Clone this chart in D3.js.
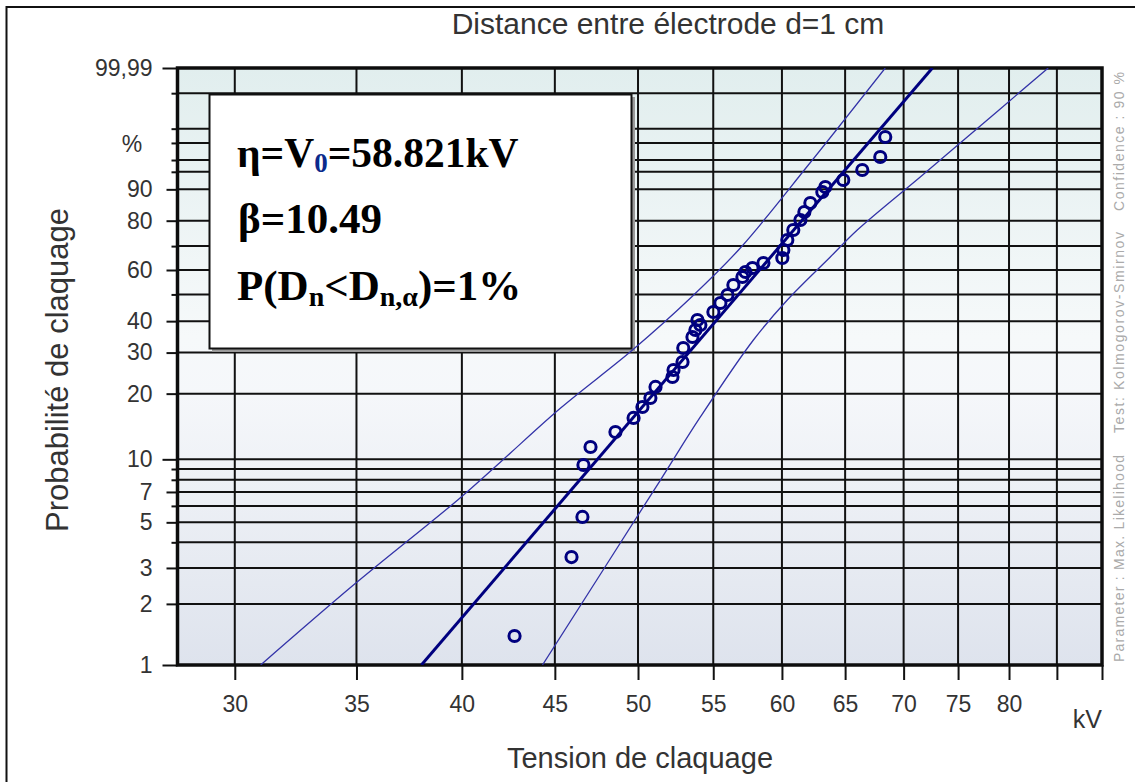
<!DOCTYPE html>
<html>
<head>
<meta charset="utf-8">
<script src="https://cdn.jsdelivr.net/npm/d3@7"></script>
<style>
  html, body { margin: 0; padding: 0; background: #ffffff; }
  svg { display: block; }
</style>
</head>
<body>
<svg id="chart" width="1135" height="782"></svg>
<script>
// ---------- data ----------
const voltage = [42.76, 45.96, 46.60, 46.66, 47.08, 48.59, 49.72, 50.28, 50.79, 51.12,
                 52.23, 52.30, 52.90, 52.95, 53.57, 53.77, 54.11, 53.91, 55.01, 55.50,
                 56.00, 56.42, 57.07, 57.29, 57.80, 58.61, 60.03, 60.11, 60.41, 60.87,
                 61.42, 61.73, 62.20, 63.15, 63.39, 64.85, 66.43, 67.96, 68.39];
const probability = [1.39, 3.39, 5.31, 9.40, 11.42, 13.41, 15.55, 17.43, 19.13, 21.40,
                     23.65, 25.35, 27.41, 31.33, 34.70, 36.98, 38.66, 40.40, 43.29, 46.66,
                     49.78, 53.79, 57.09, 59.17, 60.84, 62.94, 65.04, 68.39, 72.50, 76.48,
                     80.26, 83.10, 86.05, 89.29, 90.61, 92.29, 94.34, 96.43, 98.48];

// fitted Weibull line (end points) and 90 % confidence bounds
const fitLine = [[38.0, 1], [72.6, 99.99]];
const upperBound = [[31.00, 1], [34.88, 2.48], [39.79, 6.41], [42.01, 9.72], [45.33, 17.25],
                    [49.65, 30.74], [53.51, 48.99], [56.92, 69.22], [62.04, 95.22], [68.39, 99.99]];
const lowerBound = [[44.30, 1], [51.44, 7.98], [54.11, 15.71], [57.87, 33.76], [60.41, 47.82],
                    [63.79, 65.46], [66.01, 76.48], [71.49, 92.95], [75.20, 97.99], [84.07, 99.99]];

// axis ticks
const xGridValues = [30, 35, 40, 45, 50, 55, 60, 65, 70, 75, 80, 85, 90];
const xLabelValues = [30, 35, 40, 45, 50, 55, 60, 65, 70, 75, 80];
const pGridValues = [1, 2, 3, 4, 5, 6, 7, 8, 9, 10, 20, 30, 40, 50, 60, 70, 80, 90, 94, 96, 98, 99, 99.9];
const pLabelValues = [1, 2, 3, 5, 7, 10, 20, 30, 40, 60, 80, 90, 99.99];
const pLongTicks = [1, 10, 99.99];

const title = "Distance entre électrode d=1 cm";
const xTitle = "Tension de claquage";
const yTitle = "Probabilité de claquage";
const sideNotes = ["Parameter : Max. Likelihood", "Test: Kolmogorov-Smirnov", "Confidence : 90 %"];

// ---------- layout ----------
const L = 177.5, R = 1102, T = 68, B = 665;
const svg = d3.select("#chart");

const x = d3.scaleLog().domain([27.9, 90]).range([L, R]);
const weib = p => Math.log(-Math.log(1 - p / 100));
const yLin = d3.scaleLinear().domain([weib(1), weib(99.99)]).range([B, T]);
const y = p => yLin(weib(p));

// outer border (top & left visible)
svg.append("path").attr("d", `M6.5,${782} L6.5,7 L1135,7`)
  .attr("fill", "none").attr("stroke", "#111").attr("stroke-width", 2);

// background gradient
const defs = svg.append("defs");
const grad = defs.append("linearGradient").attr("id", "bg").attr("x1", 0).attr("y1", 0).attr("x2", 0).attr("y2", 1);
[[0, "#e1eeee"], [0.45, "#f6f9fa"], [0.55, "#f5f7fa"], [1, "#dee3ed"]].forEach(s =>
  grad.append("stop").attr("offset", s[0]).attr("stop-color", s[1]));
defs.append("clipPath").attr("id", "clip").append("rect")
  .attr("x", L).attr("y", T).attr("width", R - L).attr("height", B - T);

svg.append("rect").attr("x", L).attr("y", T).attr("width", R - L).attr("height", B - T)
  .attr("fill", "url(#bg)");

// grid lines
const grid = svg.append("g").attr("stroke", "#111").attr("stroke-width", 2);
grid.selectAll("line.v").data(xGridValues).join("line")
  .attr("x1", d => x(d)).attr("x2", d => x(d)).attr("y1", T).attr("y2", B);
grid.selectAll("line.h").data(pGridValues).join("line")
  .attr("x1", L).attr("x2", R).attr("y1", d => y(d)).attr("y2", d => y(d));

// x axis (ticks below the frame)
const xAxis = d3.axisBottom(x).tickValues(xGridValues)
  .tickFormat(d => xLabelValues.includes(d) ? d : "").tickSize(15).tickPadding(16);
const gx = svg.append("g").attr("transform", `translate(0,${B})`).call(xAxis);
gx.select(".domain").remove();
gx.selectAll(".tick line").attr("stroke", "#111").attr("stroke-width", 2);
gx.selectAll(".tick text").attr("font-family", "Liberation Sans, Arial, sans-serif")
  .attr("font-size", 23).attr("fill", "#333");

// y axis: labelled ticks and minor ticks
const labelledT = pLabelValues.map(weib);
const yAxis = d3.axisLeft(yLin).tickValues(labelledT)
  .tickFormat(t => { const p = pLabelValues[labelledT.indexOf(t)]; return p === 99.99 ? "99,99" : p; })
  .tickSize(11).tickPadding(14);
const gy = svg.append("g").attr("transform", `translate(${L},0)`).call(yAxis);
gy.select(".domain").remove();
gy.selectAll(".tick line").attr("stroke", "#111").attr("stroke-width", 2)
  .attr("x2", (t) => pLongTicks.includes(pLabelValues[labelledT.indexOf(t)]) ? -15 : -11);
gy.selectAll(".tick text").attr("font-family", "Liberation Sans, Arial, sans-serif")
  .attr("font-size", 23).attr("fill", "#333").attr("x", -25);

const minorT = pGridValues.filter(p => !pLabelValues.includes(p)).map(weib);
const gyMinor = svg.append("g").attr("transform", `translate(${L},0)`)
  .call(d3.axisLeft(yLin).tickValues(minorT).tickFormat("").tickSize(6));
gyMinor.select(".domain").remove();
gyMinor.selectAll(".tick line").attr("stroke", "#111").attr("stroke-width", 2);

svg.append("text").attr("x", 132).attr("y", y(98) + 9).attr("text-anchor", "middle")
  .attr("font-family", "Liberation Sans, Arial, sans-serif").attr("font-size", 23).attr("fill", "#333")
  .text("%");

// plot frame
svg.append("rect").attr("x", L).attr("y", T).attr("width", R - L).attr("height", B - T)
  .attr("fill", "none").attr("stroke", "#0d0d0d").attr("stroke-width", 3.5);

// parameter box
svg.append("rect").attr("x", 212).attr("y", 97).attr("width", 423).attr("height", 255).attr("fill", "#9a9a9a");
svg.append("rect").attr("x", 209.5).attr("y", 94.5).attr("width", 422).attr("height", 254)
  .attr("fill", "#ffffff").attr("stroke", "#111").attr("stroke-width", 2);

const boxFont = "Liberation Serif, Times New Roman, serif";
const t1 = svg.append("text").attr("x", 237).attr("y", 167).attr("font-family", boxFont)
  .attr("font-weight", "bold").attr("font-size", 41.5).attr("fill", "#000");
t1.append("tspan").text("η=V");
t1.append("tspan").attr("font-size", 27).attr("dy", 5).attr("fill", "#0b2a8c").text("0");
t1.append("tspan").attr("dy", -5).text("=58.821kV");

svg.append("text").attr("x", 238).attr("y", 233).attr("font-family", boxFont)
  .attr("font-weight", "bold").attr("font-size", 43).attr("fill", "#000").text("β=10.49");

const t3 = svg.append("text").attr("x", 237).attr("y", 300).attr("font-family", boxFont)
  .attr("font-weight", "bold").attr("font-size", 43).attr("fill", "#000");
t3.append("tspan").text("P(D");
t3.append("tspan").attr("font-size", 28).attr("dy", 6).text("n");
t3.append("tspan").attr("dy", -6).text("<D");
t3.append("tspan").attr("font-size", 28).attr("dy", 6).text("n,α");
t3.append("tspan").attr("dy", -6).text(")=1%");

// curves
const plot = svg.append("g").attr("clip-path", "url(#clip)");
const line = d3.line().x(d => x(d[0])).y(d => y(d[1]));
const curve = d3.line().x(d => x(d[0])).y(d => y(d[1])).curve(d3.curveCatmullRom.alpha(0.5));

plot.append("path").datum(upperBound).attr("d", curve)
  .attr("fill", "none").attr("stroke", "#3333a8").attr("stroke-width", 1.3);
plot.append("path").datum(lowerBound).attr("d", curve)
  .attr("fill", "none").attr("stroke", "#3333a8").attr("stroke-width", 1.3);
plot.append("path").datum(fitLine).attr("d", line)
  .attr("fill", "none").attr("stroke", "#00007f").attr("stroke-width", 3);

plot.selectAll("circle").data(voltage.map((v, i) => [v, probability[i]])).join("circle")
  .attr("cx", d => x(d[0])).attr("cy", d => y(d[1])).attr("r", 5.6)
  .attr("fill", "none").attr("stroke", "#00007f").attr("stroke-width", 3);

// titles
svg.append("text").attr("x", 668).attr("y", 34).attr("text-anchor", "middle")
  .attr("font-family", "Liberation Sans, Arial, sans-serif").attr("font-size", 30).attr("fill", "#333")
  .text(title);
svg.append("text").attr("x", 640).attr("y", 768).attr("text-anchor", "middle")
  .attr("font-family", "Liberation Sans, Arial, sans-serif").attr("font-size", 29).attr("fill", "#333")
  .text(xTitle);
svg.append("text").attr("transform", "translate(68,370) rotate(-90)").attr("text-anchor", "middle")
  .attr("font-family", "Liberation Sans, Arial, sans-serif").attr("font-size", 31).attr("fill", "#333")
  .text(yTitle);
svg.append("text").attr("x", 1102).attr("y", 728).attr("text-anchor", "end")
  .attr("font-family", "Liberation Sans, Arial, sans-serif").attr("font-size", 25).attr("fill", "#333")
  .text("kV");

// side notes
const sidePos = [[662, 207], [433, 201], [211, 139]];
sideNotes.forEach((s, i) => {
  svg.append("text").attr("transform", `translate(1124,${sidePos[i][0]}) rotate(-90)`)
    .attr("font-family", "Liberation Sans, Arial, sans-serif").attr("font-size", 14)
    .attr("fill", "#aaaaaa").attr("textLength", sidePos[i][1]).attr("lengthAdjust", "spacing")
    .text(s);
});
</script>
</body>
</html>
